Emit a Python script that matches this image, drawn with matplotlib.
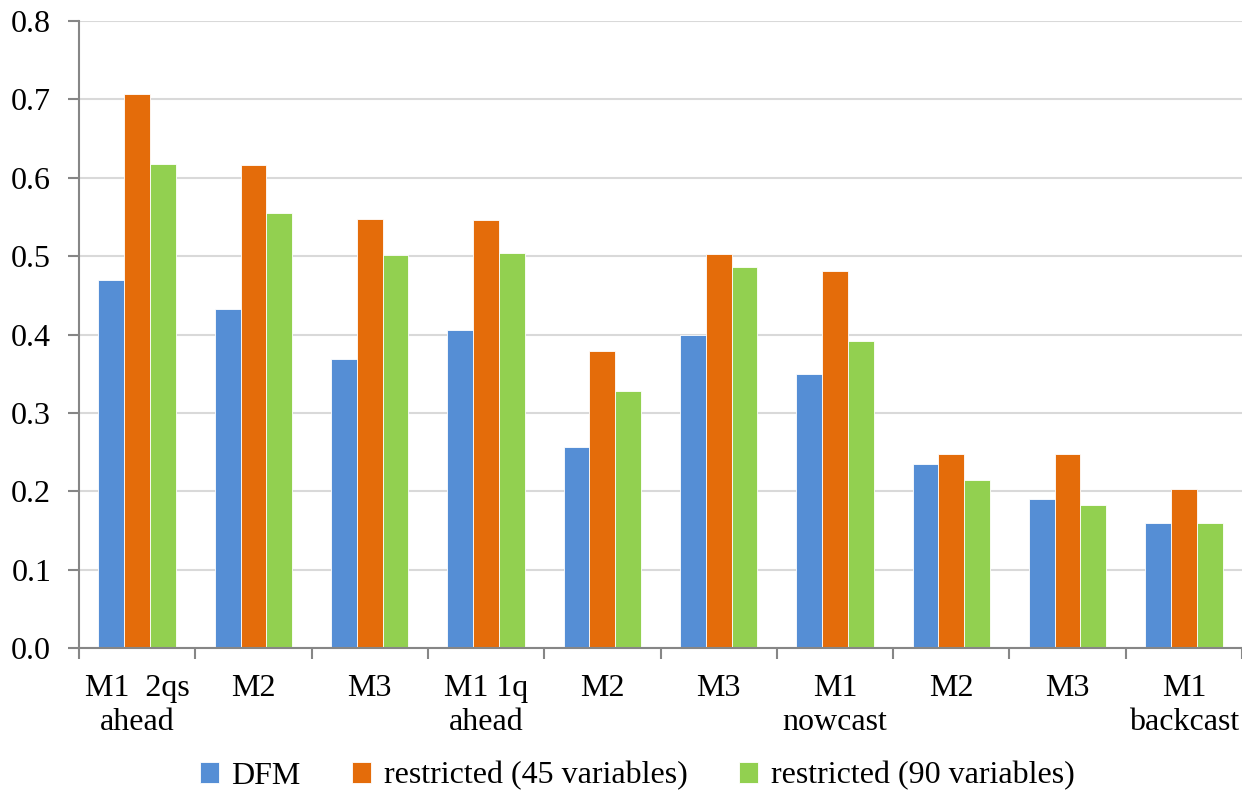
import numpy as np
import matplotlib
matplotlib.use("Agg")
import matplotlib.pyplot as plt

# Forecast horizon / month labels
categories = ["M1  2qs\nahead", "M2", "M3", "M1 1q\nahead", "M2", "M3",
              "M1\nnowcast", "M2", "M3", "M1\nbackcast"]

# RMSE per model
dfm = [0.470, 0.432, 0.369, 0.406, 0.257, 0.400, 0.350, 0.235, 0.190, 0.160]
restricted_45 = [0.707, 0.616, 0.547, 0.546, 0.379, 0.503, 0.481, 0.248, 0.248, 0.203]
restricted_90 = [0.617, 0.555, 0.501, 0.504, 0.328, 0.486, 0.392, 0.214, 0.183, 0.160]

series_names = ["DFM", "restricted (45 variables)", "restricted (90 variables)"]
colors = ["#558ED5", "#E46C0A", "#92D050"]

plt.rcParams["font.family"] = ["Liberation Serif", "DejaVu Serif"]
fs = 23

fig = plt.figure(figsize=(12.42, 7.95), dpi=100)
ax = fig.add_axes([79 / 1242, 147 / 795, 1163 / 1242, 627 / 795])

x = np.arange(len(categories))
width = 0.222
for i, (vals, name, c) in enumerate(zip([dfm, restricted_45, restricted_90], series_names, colors)):
    ax.bar(x + (i - 1) * width, vals, width, color=c, label=name,
           edgecolor="white", linewidth=0.6, zorder=3)

ax.set_xlim(-0.5, len(categories) - 0.5)
ax.set_ylim(0, 0.8)
ax.set_yticks(np.arange(0, 0.81, 0.1))
ax.set_yticklabels([f"{v:.1f}" for v in np.arange(0, 0.81, 0.1)], fontsize=fs)
ax.yaxis.grid(True, color="#D9D9D9", linewidth=1.5, zorder=0)

# boundary ticks between groups, labels at the centres
ax.set_xticks(np.arange(-0.5, len(categories) + 0.5, 1.0))
ax.set_xticklabels([])
ax.set_xticks(x, minor=True)
ax.set_xticklabels(categories, minor=True, fontsize=fs, linespacing=1.2)
ax.tick_params(axis="x", which="major", length=8, width=1.5, color="#868686", direction="out")
ax.tick_params(axis="x", which="minor", length=0, pad=19)
ax.tick_params(axis="y", length=8, width=1.5, color="#868686", pad=12)

for side in ["top", "right"]:
    ax.spines[side].set_visible(False)
for side in ["left", "bottom"]:
    ax.spines[side].set_color("#868686")
    ax.spines[side].set_linewidth(1.5)
    ax.spines[side].set_zorder(4)

ax.legend(loc="center", bbox_to_anchor=(637 / 1242, (795 - 776) / 795),
          bbox_transform=fig.transFigure, ncol=3, frameon=False, fontsize=fs,
          handlelength=0.6, handleheight=0.6, handletextpad=0.4, columnspacing=1.6,
          borderpad=0)

fig.savefig("out.png", dpi=100)
